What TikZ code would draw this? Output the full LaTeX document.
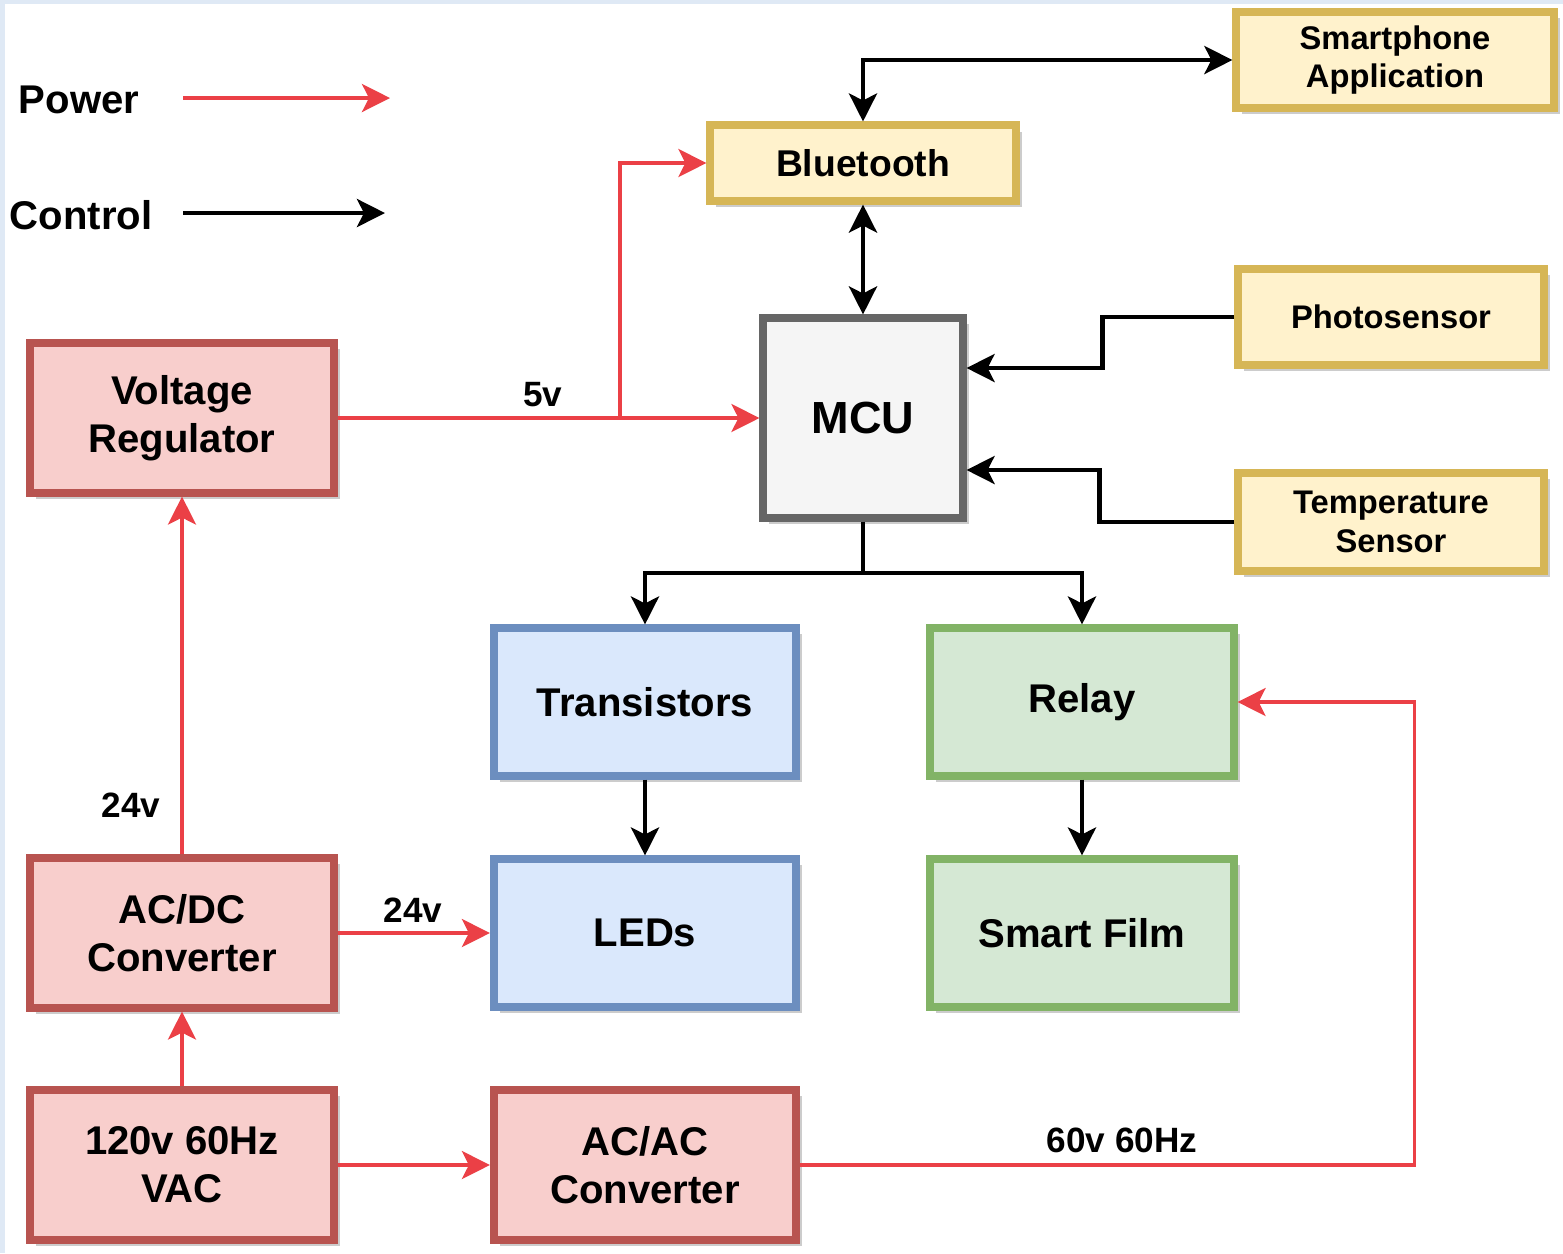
\documentclass[tikz,border=0pt]{standalone}
\usepackage{fontspec}
\setmainfont{Liberation Sans}
\usetikzlibrary{arrows.meta,shadows,calc}
\definecolor{redfill}{HTML}{F8CECC}
\definecolor{redline}{HTML}{B85450}
\definecolor{yelfill}{HTML}{FFF2CC}
\definecolor{yelline}{HTML}{D6B656}
\definecolor{bluefill}{HTML}{DAE8FC}
\definecolor{blueline}{HTML}{6C8EBF}
\definecolor{grnfill}{HTML}{D5E8D4}
\definecolor{grnline}{HTML}{82B366}
\definecolor{mcufill}{HTML}{F5F5F5}
\definecolor{mculine}{HTML}{666666}
\definecolor{pwrred}{RGB}{235,64,70}
\definecolor{bgblue}{HTML}{DFE9F5}
\newcommand\bigfont{\bfseries\fontsize{11.4}{13.7}\selectfont}
\newcommand\midfont{\bfseries\fontsize{10.6}{12.5}\selectfont}
\newcommand\smallfont{\bfseries\fontsize{9.3}{10.9}\selectfont}
\newcommand\lblfont{\bfseries\fontsize{10}{12}\selectfont}
\begin{document}
\begin{tikzpicture}[x=0.01cm, y=-0.01cm,
  >={Stealth[length=0.28cm, width=0.28cm, inset=0.07cm]},
  every node/.style={font=\bigfont},
  blk/.style={draw, line width=0.08cm, align=center,
    drop shadow={shadow xshift=0.06cm, shadow yshift=-0.06cm, opacity=0.4}},
  pwrbox/.style={blk, fill=redfill, draw=redline, minimum width=3.03cm, minimum height=1.49cm},
  ledbox/.style={blk, fill=bluefill, draw=blueline, minimum width=3.02cm, minimum height=1.47cm},
  filmbox/.style={blk, fill=grnfill, draw=grnline, minimum width=3.03cm, minimum height=1.47cm},
  sensbox/.style={blk, fill=yelfill, draw=yelline, minimum width=3.05cm, minimum height=0.96cm, font=\smallfont},
  pwr/.style={->, pwrred, line width=0.035cm},
  ctrl/.style={->, black, line width=0.045cm},
  lbl/.style={font=\lblfont, inner sep=1pt}]
  % frame
  \useasboundingbox (0,0) rectangle (1563,1253);
  \fill[bgblue] (0,0) rectangle (1563,1253);
  \fill[white] (5,4) rectangle (1563,1253);
  % legend
  \node (pwrtxt) at (79,100) {Power};
  \node (ctrltxt) at (81,215) {Control};
  \draw[pwr] (183,98) coordinate (pwrl) -- ++(207,0);
  \draw[ctrl] (183,213) coordinate (ctrll) -- ++(202,0);
  % power side
  \node[pwrbox] (VR) at (182,418) {Voltage\\Regulator};
  \node[pwrbox] (ACDC) at (182,933) {AC/DC\\Converter};
  \node[pwrbox] (VAC) at (182,1165) {120v 60Hz\\VAC};
  \node[pwrbox, minimum width=3.02cm] (ACAC) at (645,1165) {AC/AC\\Converter};
  % control side
  \node[blk, fill=mcufill, draw=mculine, minimum width=1.99cm, minimum height=1.99cm,
    font=\bfseries\fontsize{12.8}{15}\selectfont] (MCU) at (863,418) {MCU};
  \node[sensbox, minimum height=0.75cm, font=\midfont] (BT) at (863,163) {Bluetooth};
  \node[sensbox, minimum width=3.17cm] (SP) at (1395,60) {Smartphone\\Application};
  \node[sensbox] (PS) at (1391,317) {Photosensor};
  \node[sensbox, minimum height=0.97cm] (TS) at (1391,522) {Temperature\\Sensor};
  \node[ledbox] (TR) at (645,702) {Transistors};
  \node[ledbox] (LED) at (645,933) {LEDs};
  \node[filmbox] (RL) at (1082,702) {Relay};
  \node[filmbox] (SF) at (1082,933) {Smart Film};
  % control arrows
  \draw[ctrl, <->] (BT.north) |- (SP.west);
  \draw[ctrl, <->] (BT.south) -- (MCU.north);
  \draw[ctrl] (PS.west) -- ++(-132,0) |- ($(MCU.east)+(0,-50)$);
  \draw[ctrl] (TS.west) -- ++(-135,0) |- ($(MCU.east)+(0,52)$);
  \coordinate (split) at (863,573);
  \draw[line width=0.045cm] (MCU.south) -- (split);
  \draw[ctrl] (split) -| (TR.north);
  \draw[ctrl] (split) -| (RL.north);
  \draw[ctrl] (TR.south) -- (LED.north);
  \draw[ctrl] (RL.south) -- (SF.north);
  % power arrows
  \coordinate (split5) at (620,418);
  \draw[pwr] (VR.east) -- (MCU.west);
  \draw[pwr] (split5) |- (BT.west);
  \node[lbl] (v5) at (543,395) {5v};
  \draw[pwr] (ACDC.north) -- (VR.south);
  \node[lbl] (v24a) at (131,805) {24v};
  \draw[pwr] (ACDC.east) -- (LED.west);
  \node[lbl] (v24b) at (413,910) {24v};
  \draw[pwr] (VAC.north) -- (ACDC.south);
  \draw[pwr] (VAC.east) -- (ACAC.west);
  \draw[pwr] (ACAC.east) -| ($(RL.east)+(177,0)$) -- (RL.east);
  \node[lbl] (v60) at (1122,1140) {60v 60Hz};
\end{tikzpicture}
\end{document}
